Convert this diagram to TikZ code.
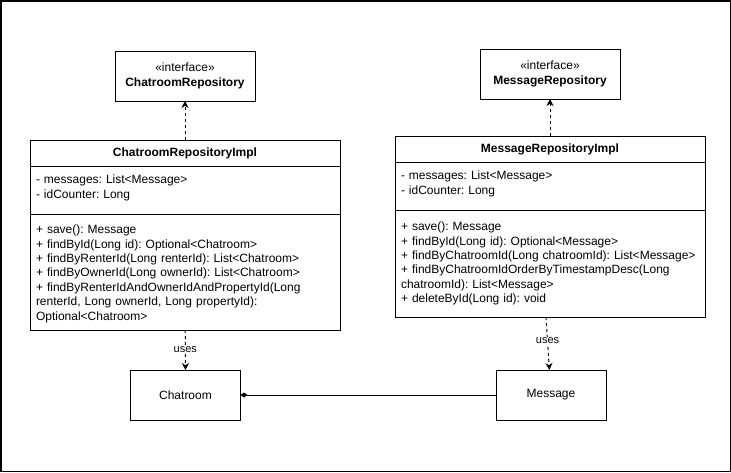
\documentclass[tikz,border=0pt]{standalone}
\usepackage{fontspec}
\setmainfont{Liberation Sans}
\usetikzlibrary{arrows.meta, positioning}
\frenchspacing

\begin{document}
\begin{tikzpicture}[x=1pt, y=-1pt, line width=1pt, >={Stealth[length=7pt,width=7pt]},
    every node/.style={font=\fontsize{12}{14.4}\selectfont, outer sep=0pt},
    box/.style={draw, inner sep=0pt},
    iface/.style={box, minimum width=140, minimum height=50, align=center},
    head/.style={box, minimum width=310, minimum height=26, font=\fontsize{12}{14.4}\selectfont\bfseries},
    part/.style={box, minimum width=310},
    members/.style={inner sep=0pt, anchor=north west, text width=302, align=left},
    entity/.style={box, minimum width=110, minimum height=50},
    realize/.style={->, dash pattern=on 3pt off 3pt},
    uses/.style={realize},
    edgelabel/.style={fill=white, inner sep=1pt, font=\fontsize{11}{13}\selectfont}]
    \useasboundingbox (0,0) rectangle (731,472);
    \draw[line width=1.5pt] (0.75,0.75) rectangle (730.25,471.25);

    % interfaces
    \node[iface] (criface) at (185,76) {«interface»\\\textbf{ChatroomRepository}};
    \node[iface] (miface) at (550,74) {«interface»\\\textbf{MessageRepository}};

    % ChatroomRepositoryImpl
    \node[head] (crimpl) at (185,153) {ChatroomRepositoryImpl};
    \node[part, minimum height=48, below=0pt of crimpl] (crattr) {};
    \node[part, minimum height=116, below=0pt of crattr] (crops) {};
    \node[members] (crattrtxt) at ([shift={(6,9)}]crattr.north west) {- messages: List<Message>\\- idCounter: Long};
    \node[members] (cropstxt) at ([shift={(6,11)}]crops.north west) {
      + save(): Message\\
      + findById(Long id): Optional<Chatroom>\\
      + findByRenterId(Long renterId): List<Chatroom>\\
      + findByOwnerId(Long ownerId): List<Chatroom>\\
      + findByRenterIdAndOwnerIdAndPropertyId(Long\\
      renterId, Long ownerId, Long propertyId):\\
      Optional<Chatroom>};

    % MessageRepositoryImpl
    \node[head] (mimpl) at (550,149) {MessageRepositoryImpl};
    \node[part, minimum height=48, below=0pt of mimpl] (mattr) {};
    \node[part, minimum height=107, below=0pt of mattr] (mops) {};
    \node[members] (mattrtxt) at ([shift={(6,9)}]mattr.north west) {- messages: List<Message>\\- idCounter: Long};
    \node[members] (mopstxt) at ([shift={(6,12)}]mops.north west) {
      + save(): Message\\
      + findById(Long id): Optional<Message>\\
      + findByChatroomId(Long chatroomId): List<Message>\\
      + findByChatroomIdOrderByTimestampDesc(Long\\
      chatroomId): List<Message>\\
      + deleteById(Long id): void};

    % entities
    \node[entity] (chatroom) at (185.5,395) {Chatroom};
    \node[entity] (message) at (551,395) {Message};

    \draw[realize] (crimpl) -- (criface);
    \draw[realize] (mimpl) -- (miface);
    \draw[uses] (crops) -- node[edgelabel]{uses} (chatroom);
    \draw[uses] ([xshift=-4pt]mops.south) -- node[edgelabel, pos=0.45]{uses} (message);
    \draw[{Diamond[length=7pt,width=5pt]}-] (chatroom) -- (message);
\end{tikzpicture}
\end{document}
